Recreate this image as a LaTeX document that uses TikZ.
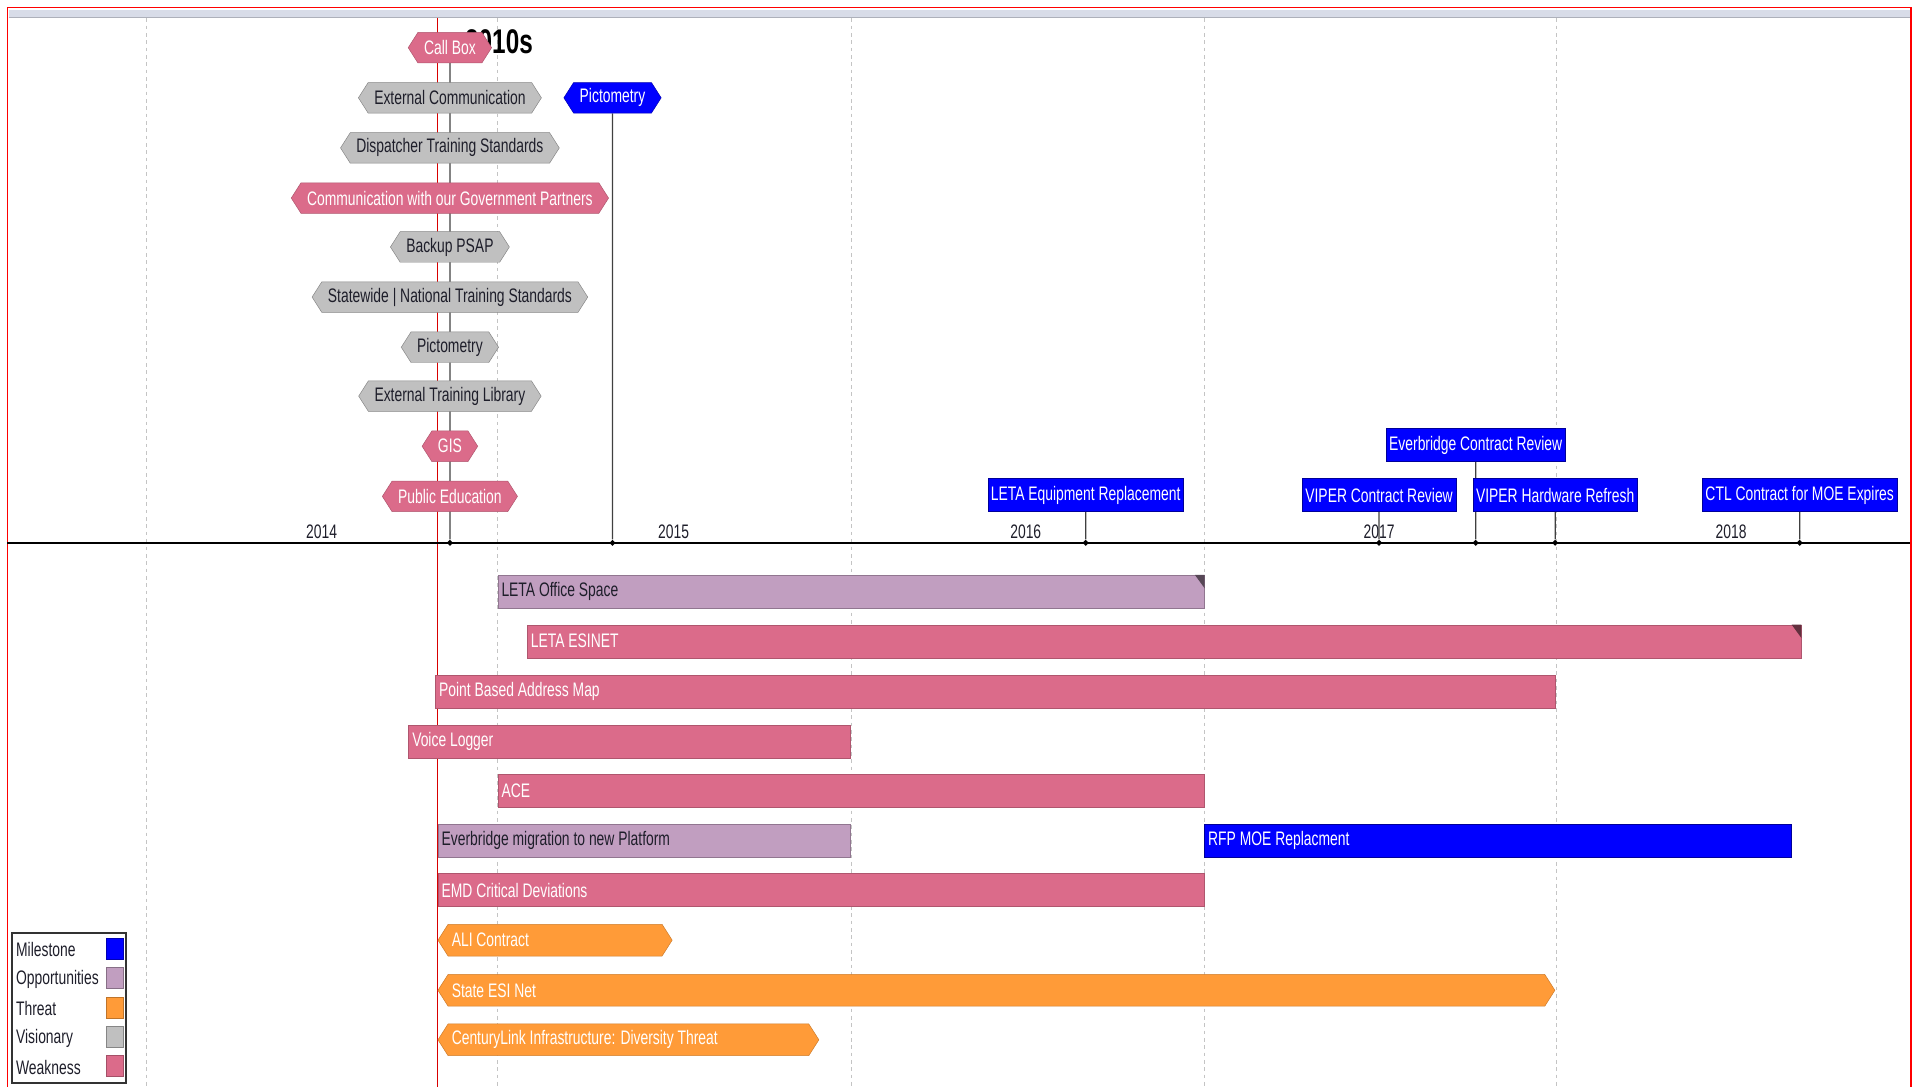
\documentclass[tikz,border=0pt]{standalone}
\usepackage{fontspec}
\setmainfont{Liberation Sans}[FakeStretch=0.71]
\usetikzlibrary{shapes.symbols}
\pgfdeclarelayer{back}
\pgfsetlayers{back,main}
\definecolor{weak}{HTML}{DB6B8A}
\definecolor{oppo}{HTML}{C19EC0}
\definecolor{thrt}{HTML}{FF9B38}
\definecolor{visi}{HTML}{C0C0C0}
\definecolor{mile}{HTML}{0000FF}
\definecolor{ink}{HTML}{1E1E2A}
\definecolor{band}{HTML}{D8DCE8}
\definecolor{grid}{HTML}{C4C4C4}

\begin{document}
\begin{tikzpicture}[x=1pt,y=-1pt,
	every node/.style={font=\fontsize{16}{18}\selectfont},
	hx/.style={signal,signal to=east and west,signal pointer angle=115,minimum height=25pt,inner xsep=5pt,inner ysep=0pt},
	vis/.style={hx,fill=visi,draw=visi!70!black,text=ink},
	wkh/.style={hx,fill=weak,draw=weak!80!black,text=white},
	msh/.style={hx,fill=mile,draw=mile!70!black,text=white},
	ms/.style={rectangle,fill=mile,draw=mile!60!black,text=white,minimum height=27pt,inner xsep=2.5pt,inner ysep=0pt},
	bar/.style={rectangle,anchor=west,minimum height=27pt,inner xsep=3pt,inner ysep=0pt,align=flush left},
	wkb/.style={bar,fill=weak,draw=weak!80!black,text=white},
	opb/.style={bar,fill=oppo,draw=oppo!75!black,text=ink},
	msb/.style={bar,fill=mile,draw=mile!60!black,text=white},
	thb/.style={signal,signal to=east and west,signal pointer angle=115,anchor=west,minimum height=26pt,inner xsep=3pt,inner ysep=0pt,align=flush left,fill=thrt,draw=thrt!80!black,text=white},
	axmark/.style={rectangle,fill=black,inner sep=0pt,minimum size=3.5pt,rotate=45},
	stem/.style={draw=black!75,line width=1pt},
	key/.style={rectangle,minimum width=14pt,minimum height=17pt,inner sep=0pt},
	yr/.style={text=ink,inner sep=0pt}]
	\useasboundingbox (0,0) rectangle (1568,889);
	
	% title, mostly under the first box
	\node[font=\fontsize{28}{30}\bfseries\selectfont,anchor=east,inner sep=0pt] (ttl) at (436,34) {2010s};
	
	% visionary / weakness boxes above the axis
	\node[wkh] (h1) at (368,39) {Call Box};
	\node[vis] (h2) at (368,80) {External Communication};
	\node[vis] (h3) at (368,121) {Dispatcher Training Standards};
	\node[wkh] (h4) at (368,162) {Communication with our Government Partners};
	\node[vis] (h5) at (368,202) {Backup PSAP};
	\node[vis] (h6) at (368,243) {Statewide | National Training Standards};
	\node[vis] (h7) at (368,284) {Pictometry};
	\node[vis] (h8) at (368,324) {External Training Library};
	\node[wkh] (h9) at (368,365) {GIS};
	\node[wkh] (h10) at (368,406) {Public Education};
	\node[msh] (h11) at (501,80) {Pictometry};
	
	% milestones
	\node[ms] (m1) at (888,405) {LETA Equipment Replacement};
	\node[ms] (m2) at (1128,405) {VIPER Contract Review};
	\node[ms] (m3) at (1207,364) {Everbridge Contract Review};
	\node[ms] (m4) at (1272,405) {VIPER Hardware Refresh};
	\node[ms] (m5) at (1472,405) {CTL Contract for MOE Expires};
	
	% axis marks
	\node[axmark] (a1) at (368,444) {};
	\node[axmark] (a2) at (501,444) {};
	\node[axmark] (a3) at (888,444) {};
	\node[axmark] (a4) at (1128,444) {};
	\node[axmark] (a5) at (1207,444) {};
	\node[axmark] (a6) at (1272,444) {};
	\node[axmark] (a7) at (1472,444) {};
	
	% years
	\node[yr] (y1) at (263,435) {2014};
	\node[yr] (y2) at (551,435) {2015};
	\node[yr] (y3) at (839,435) {2016};
	\node[yr] (y4) at (1128,435) {2017};
	\node[yr] (y5) at (1416,435) {2018};
	
	% bars below the axis
	\node[opb,text width=572pt] (b1) at (407,484) {LETA Office Space};
	\node[wkb,text width=1036pt] (b2) at (431,524.5) {LETA ESINET};
	\node[wkb,text width=910pt] (b3) at (356,565.5) {Point Based Address Map};
	\node[wkb,text width=355pt] (b4) at (334,606.5) {Voice Logger};
	\node[wkb,text width=572pt] (b5) at (407,647) {ACE};
	\node[opb,text width=331pt] (b6) at (358,687.5) {Everbridge migration to new Platform};
	\node[msb,text width=474pt] (b7) at (985,687.5) {RFP MOE Replacment};
	\node[wkb,text width=621pt] (b8) at (358,728) {EMD Critical Deviations};
	\node[thb,text width=169pt] (b9) at (358,769) {ALI Contract};
	\node[thb,text width=891pt] (b10) at (358,810) {State ESI Net};
	\node[thb,text width=289pt] (b11) at (358,850.5) {CenturyLink Infrastructure: Diversity Threat};
	
	\fill[oppo!45!black] (b1.north east) -- ++(-8,0) -- ++(8,11) -- cycle;
	\fill[weak!45!black] (b2.north east) -- ++(-8,0) -- ++(8,11) -- cycle;
	
	% legend
	\draw[black!80,line width=1.2pt] (10,763) rectangle (103,886);
	\node[yr,anchor=west] (l1) at (13,777) {Milestone};
	\node[yr,anchor=west] (l2) at (13,801) {Opportunities};
	\node[yr,anchor=west] (l3) at (13,825) {Threat};
	\node[yr,anchor=west] (l4) at (13,849) {Visionary};
	\node[yr,anchor=west] (l5) at (13,873) {Weakness};
	\node[key,fill=mile,draw=mile!70!black] (k1) at (94,776) {};
	\node[key,fill=oppo,draw=oppo!70!black] (k2) at (94,800) {};
	\node[key,fill=thrt,draw=thrt!75!black] (k3) at (94,824) {};
	\node[key,fill=visi,draw=visi!70!black] (k4) at (94,848) {};
	\node[key,fill=weak,draw=weak!75!black] (k5) at (94,872) {};
	
	\begin{pgfonlayer}{back}
		% frame and grid
		\fill[band] (7,8) rectangle (1562,14);
		\draw[band!80!black] (7,14) -- (1562,14);
		\draw[red,line width=1.2pt] (6,892) -- (6,6) -- (1563,6) -- (1563,892);
		\draw[grid,dashed] (120,15) -- (120,889);
		\draw[grid,dashed] (407,15) -- (407,889);
		\draw[grid,dashed] (696,15) -- (696,889);
		\draw[grid,dashed] (985,15) -- (985,889);
		\draw[grid,dashed] (1273,15) -- (1273,889);
		\draw[red!85!black,line width=0.8pt] (357.5,15) -- (357.5,889);
		\draw[black,line width=1.8pt] (6,444) -- (1562,444);
		% stems
		\draw[stem] (h1) -- (a1);
		\draw[stem] (h11) -- (a2);
		\draw[stem] (m1) -- (a3);
		\draw[stem] (m2) -- (a4);
		\draw[stem] (m3) -- (a5);
		\draw[stem] (m4) -- (a6);
		\draw[stem] (m5) -- (a7);
	\end{pgfonlayer}
\end{tikzpicture}
\end{document}
